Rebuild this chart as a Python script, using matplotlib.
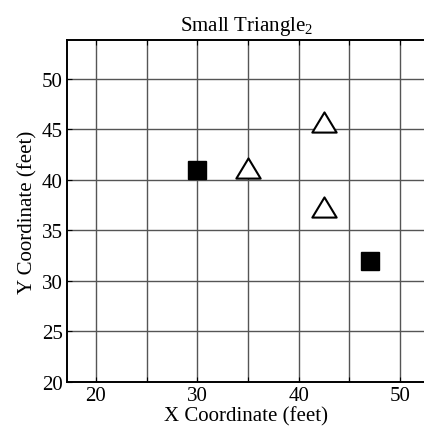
import matplotlib
matplotlib.use("Agg")
import matplotlib.pyplot as plt
from matplotlib.ticker import MultipleLocator
from matplotlib.path import Path

square_x = [30, 47]
square_y = [41, 32]
tri_x = [35, 42.5, 42.5]
tri_y = [41.2, 45.7, 37.3]
title = "Small Triangle$_{2}$"
xlabel = "X Coordinate (feet)"
ylabel = "Y Coordinate (feet)"

plt.rcParams['font.family'] = ['Liberation Serif', 'DejaVu Serif']
plt.rcParams['mathtext.fontset'] = 'custom'
plt.rcParams['mathtext.rm'] = 'Liberation Serif'
plt.rcParams['mathtext.it'] = 'Liberation Serif'

fig = plt.figure(figsize=(4.24, 4.35), dpi=100)
ax = fig.add_axes([67/424, 1-383/435, (426-67)/424, (383-41)/435])

ax.set_xlim(17.14, 52.57)
ax.set_ylim(20, 53.86)

ax.xaxis.set_major_locator(MultipleLocator(10))
ax.xaxis.set_minor_locator(MultipleLocator(5))
ax.yaxis.set_major_locator(MultipleLocator(5))
ax.grid(True, which='both', color='#555555', linewidth=1.0)
ax.set_axisbelow(True)

ax.tick_params(which='both', direction='in', top=True, right=False, length=3.5,
               width=0.8, labelsize=15, pad=3)
for s in ax.spines.values():
    s.set_linewidth(1.4)
ax.spines['right'].set_visible(False)

tri = Path([(-1, -0.83), (1, -0.83), (0, 0.83), (-1, -0.83)],
           [Path.MOVETO, Path.LINETO, Path.LINETO, Path.CLOSEPOLY])
ax.plot(square_x, square_y, linestyle='none', marker='s', markersize=12.5,
        color='black', zorder=3)
ax.plot(tri_x, tri_y, linestyle='none', marker=tri, markersize=17.5,
        markerfacecolor='white', markeredgecolor='black', markeredgewidth=1.5,
        zorder=3)

ax.set_title(title, fontsize=15, pad=7)
ax.set_xlabel(xlabel, fontsize=15, labelpad=1)
ax.set_ylabel(ylabel, fontsize=15, labelpad=3)

fig.savefig("out.png", dpi=100)
